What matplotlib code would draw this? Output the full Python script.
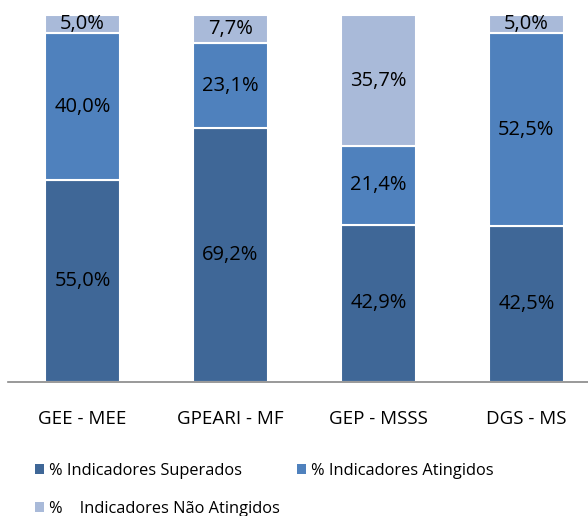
import matplotlib
matplotlib.use("Agg")
import matplotlib.pyplot as plt
from matplotlib.patches import Patch

categories = ["GEE - MEE", "GPEARI - MF", "GEP - MSSS", "DGS - MS"]
superados = [55.0, 69.2, 42.9, 42.5]
atingidos = [40.0, 23.1, 21.4, 52.5]
nao_atingidos = [5.0, 7.7, 35.7, 5.0]
series_names = ["% Indicadores Superados", "% Indicadores Atingidos", "%    Indicadores Não Atingidos"]
colors = ["#3F6797", "#4F81BD", "#A9BAD9"]

plt.rcParams['font.family'] = ['Open Sans', 'DejaVu Sans']

fig = plt.figure(figsize=(5.88, 5.16), dpi=100)
ax = fig.add_axes([8/588, 1-382/516, 1-8/588, (382-15)/516])

x = list(range(len(categories)))
bottom = [0]*len(categories)
for vals, col in zip([superados, atingidos, nao_atingidos], colors):
    ax.bar(x, vals, width=0.505, bottom=bottom, color=col, edgecolor="white", linewidth=1.5, zorder=2)
    for xi, v, b in zip(x, vals, bottom):
        ax.text(xi, b + v/2, f"{v:.1f}%".replace(".", ","), ha="center", va="center", fontsize=14.5, color="black", zorder=3)
    bottom = [b + v for b, v in zip(bottom, vals)]

ax.set_xlim(-0.503, 3.416)
ax.set_ylim(0, 100)
ax.set_xticks(x)
ax.set_xticklabels(categories, fontsize=13.5)
ax.tick_params(axis='x', length=0, pad=20)
ax.set_yticks([])
for s in ["top", "right", "left"]:
    ax.spines[s].set_visible(False)
ax.spines["bottom"].set_color("#888888")
ax.spines["bottom"].set_linewidth(1.2)

handles = [Patch(facecolor=c, edgecolor="none") for c in colors]
order = [0, 2, 1]
fig.legend([handles[i] for i in order], [series_names[i] for i in order],
           loc="lower left", bbox_to_anchor=(0.035, -0.03), ncol=2, frameon=False,
           fontsize=11.8, handlelength=0.55, handleheight=0.55, handletextpad=0.3, columnspacing=1.05,
           labelspacing=1.35)

fig.savefig("out.png", dpi=100)
